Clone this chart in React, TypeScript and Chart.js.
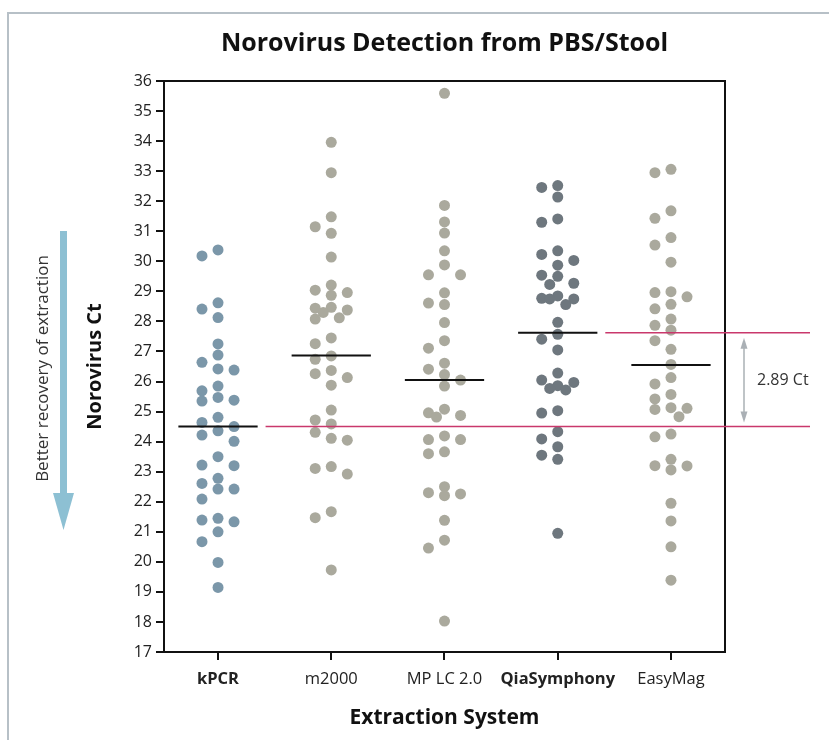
import { useEffect, useRef } from 'react';
import { Chart, registerables } from 'chart.js';

Chart.register(...registerables);

// ---------- data ----------
const categories = ['kPCR', 'm2000', 'MP LC 2.0', 'QiaSymphony', 'EasyMag'];
const boldCategories = ['kPCR', 'QiaSymphony'];

const kpcrCt = [30.38, 30.18, 28.41, 28.62, 28.13, 27.25, 26.88, 26.64, 26.42, 26.38, 25.69, 25.85, 25.38, 25.35, 25.47, 24.81, 24.5, 24.64, 24.36, 24.22, 24.01, 23.5, 23.2, 23.22, 22.78, 22.42, 22.61, 22.42, 22.09, 21.39, 21.33, 21.45, 21.0, 20.67, 19.98, 19.15];
const m2000Ct = [33.96, 32.95, 31.48, 31.15, 30.93, 30.14, 29.21, 29.04, 28.96, 28.87, 28.47, 28.44, 28.38, 28.3, 28.12, 28.08, 27.45, 27.26, 26.85, 26.74, 26.37, 26.26, 26.13, 25.88, 25.05, 24.72, 24.59, 24.31, 24.11, 24.05, 23.17, 23.11, 22.92, 21.67, 21.47, 19.73];
const mplcCt = [35.59, 31.86, 31.31, 30.94, 30.35, 29.88, 29.55, 29.55, 28.95, 28.61, 28.56, 27.96, 27.36, 27.11, 26.61, 26.41, 26.23, 26.05, 25.85, 24.96, 25.08, 24.82, 24.87, 24.07, 24.07, 24.19, 23.6, 23.66, 22.5, 22.26, 22.2, 22.3, 21.38, 20.72, 20.46, 18.03];
const qiaCt = [32.46, 32.52, 32.14, 31.41, 31.3, 30.23, 30.35, 30.03, 29.87, 29.54, 29.5, 29.27, 29.23, 28.75, 28.85, 28.77, 28.75, 28.56, 27.97, 27.57, 27.41, 27.05, 26.28, 26.05, 25.97, 25.86, 25.72, 25.77, 25.03, 24.95, 24.33, 24.09, 23.83, 23.55, 23.41, 20.95];
const easymagCt = [33.06, 32.95, 31.68, 31.43, 30.79, 30.54, 29.97, 28.99, 28.82, 28.96, 28.57, 28.42, 28.08, 27.87, 27.71, 27.36, 27.07, 26.57, 26.13, 25.92, 25.57, 25.11, 25.42, 25.13, 25.07, 24.83, 24.25, 24.16, 23.41, 23.2, 23.06, 23.19, 21.95, 21.36, 20.5, 19.39];
const seriesCt = [kpcrCt, m2000Ct, mplcCt, qiaCt, easymagCt];

const meanCt = [24.5, 26.87, 26.05, 27.62, 26.55];
const yMin = 17;
const yMax = 36;
const deltaLabel = '2.89 Ct';

// ---------- styles ----------
const FONT = "'Open Sans', 'Noto Sans', sans-serif";
const dotColors = ['#7b97a9', '#aaa99d', '#aaa99d', '#6e777e', '#aaa99d'];
const PINK = '#c9386c';

// simple beeswarm: spreads dots of one category sideways so they overlap little
function swarm(values: number[], index: number) {
  const pxPerX = 113;
  const pxPerCt = 30.05;
  const minDist = 11;
  const candidates = [0, -16, 16, -8, 8];
  const placed: { dx: number; py: number }[] = [];
  const nearest = (c: number, py: number) =>
    placed.reduce((m, p) => Math.min(m, Math.hypot(p.dx - c, p.py - py)), Infinity);
  return [...values]
    .sort((a, b) => b - a)
    .map((v) => {
      const py = v * pxPerCt;
      let dx = candidates.find((c) => nearest(c, py) >= minDist);
      if (dx === undefined) {
        dx = candidates.reduce((best, c) => (nearest(c, py) > nearest(best, py) ? c : best), candidates[0]);
      }
      placed.push({ dx, py });
      return { x: index + dx / pxPerX, y: v };
    });
}

const overlay = {
  id: 'overlay',
  beforeDatasetsDraw(chart: any) {
    const { ctx, chartArea } = chart;
    ctx.save();
    // blue arrow "better recovery"
    const cx = chartArea.left - 100.5;
    const top = chartArea.top + 150;
    const headStart = chartArea.top + 412;
    const tip = chartArea.top + 449;
    ctx.fillStyle = '#8dc0d3';
    ctx.fillRect(cx - 3.5, top, 7, headStart - top);
    ctx.beginPath();
    ctx.moveTo(cx - 10.5, headStart);
    ctx.lineTo(cx + 10.5, headStart);
    ctx.lineTo(cx, tip);
    ctx.closePath();
    ctx.fill();
    // rotated caption
    ctx.translate(chartArea.left - 121, (chartArea.top + chartArea.bottom) / 2 + 2);
    ctx.rotate(-Math.PI / 2);
    ctx.fillStyle = '#333';
    ctx.font = `17px ${FONT}`;
    ctx.textAlign = 'center';
    ctx.textBaseline = 'middle';
    ctx.fillText('Better recovery of extraction', 0, 0);
    ctx.restore();
  },
  afterDraw(chart: any) {
    const { ctx, chartArea, scales } = chart;
    const xs = scales.x;
    const ys = scales.y;
    ctx.save();
    // plot frame
    ctx.strokeStyle = '#111';
    ctx.lineWidth = 2;
    ctx.strokeRect(chartArea.left, chartArea.top, chartArea.right - chartArea.left, chartArea.bottom - chartArea.top);
    // reference lines
    const yRef = ys.getPixelForValue(meanCt[0]);
    const yQia = ys.getPixelForValue(meanCt[3]);
    const xEnd = chartArea.right + 85;
    ctx.strokeStyle = PINK;
    ctx.lineWidth = 1.5;
    ctx.beginPath();
    ctx.moveTo(xs.getPixelForValue(0.42), yRef);
    ctx.lineTo(xEnd, yRef);
    ctx.moveTo(xs.getPixelForValue(3.42), yQia);
    ctx.lineTo(xEnd, yQia);
    ctx.stroke();
    // double arrow
    const ax = chartArea.right + 19;
    const a1 = yQia + 5;
    const a2 = yRef - 4;
    ctx.strokeStyle = '#aab0b5';
    ctx.fillStyle = '#aab0b5';
    ctx.lineWidth = 1.5;
    ctx.beginPath();
    ctx.moveTo(ax, a1 + 8);
    ctx.lineTo(ax, a2 - 8);
    ctx.stroke();
    ctx.beginPath();
    ctx.moveTo(ax, a1);
    ctx.lineTo(ax - 3.5, a1 + 11);
    ctx.lineTo(ax + 3.5, a1 + 11);
    ctx.closePath();
    ctx.fill();
    ctx.beginPath();
    ctx.moveTo(ax, a2);
    ctx.lineTo(ax - 3.5, a2 - 11);
    ctx.lineTo(ax + 3.5, a2 - 11);
    ctx.closePath();
    ctx.fill();
    ctx.fillStyle = '#333';
    ctx.font = `16px ${FONT}`;
    ctx.textAlign = 'left';
    ctx.textBaseline = 'middle';
    ctx.fillText(deltaLabel, ax + 13, (a1 + a2) / 2);
    ctx.restore();
  },
};

export default function App() {
  const canvasRef = useRef<HTMLCanvasElement | null>(null);

  useEffect(() => {
    if (!canvasRef.current) return;
    Chart.defaults.font.family = FONT;
    const dotSets = seriesCt.map((vals, i) => ({
      type: 'scatter' as const,
      label: categories[i],
      data: swarm(vals, i),
      backgroundColor: dotColors[i],
      borderWidth: 0,
      pointRadius: 5.5,
      pointHoverRadius: 5.5,
      order: 2,
    }));
    const meanSets = meanCt.map((m, i) => ({
      type: 'line' as const,
      label: categories[i] + ' mean',
      data: [
        { x: i - 0.35, y: m },
        { x: i + 0.35, y: m },
      ],
      borderColor: '#111',
      borderWidth: 2,
      pointRadius: 0,
      fill: false,
      order: 1,
    }));
    const chart = new Chart(canvasRef.current, {
      type: 'scatter',
      data: { datasets: [...dotSets, ...meanSets] as any },
      options: {
        animation: false,
        responsive: false,
        devicePixelRatio: 1,
        events: [],
        layout: { padding: { left: 0, right: 104, top: 0, bottom: 0 } },
        plugins: {
          legend: { display: false },
          tooltip: { enabled: false },
          title: {
            display: true,
            text: 'Norovirus Detection from PBS/Stool',
            fullSize: false,
            color: '#111',
            font: { size: 25, weight: 'bold', family: FONT },
            padding: { top: 29, bottom: 22 },
          },
        },
        scales: {
          x: {
            type: 'linear',
            min: -0.477,
            max: 4.477,
            afterBuildTicks: (s: any) => {
              s.ticks = categories.map((_, i) => ({ value: i }));
            },
            afterFit: (s: any) => {
              s.height = 88;
            },
            ticks: {
              autoSkip: false,
              maxRotation: 0,
              padding: 9,
              color: '#222',
              callback: (v: any) => categories[Number(v)] ?? '',
              font: (c: any) => ({
                size: 16.5,
                family: FONT,
                weight: boldCategories.includes(categories[c.index]) ? 'bold' : 'normal',
              }),
            },
            grid: { drawOnChartArea: false, drawTicks: true, tickLength: 8, color: '#111', lineWidth: 2 },
            border: { display: true, color: '#111', width: 2 },
            title: {
              display: true,
              text: 'Extraction System',
              color: '#111',
              font: { size: 21, weight: 'bold', family: FONT },
              padding: { top: 0, bottom: 9.4 },
            },
          },
          y: {
            type: 'linear',
            min: yMin,
            max: yMax,
            afterFit: (s: any) => {
              s.width = 164;
            },
            ticks: { stepSize: 1, padding: 4, color: '#222', font: { size: 16, family: FONT } },
            grid: { drawOnChartArea: false, drawTicks: true, tickLength: 8, color: '#111', lineWidth: 2 },
            border: { display: true, color: '#111', width: 2 },
            title: {
              display: true,
              text: 'Norovirus Ct',
              color: '#111',
              font: { size: 20, weight: 'bold', family: FONT },
              padding: { top: 83, bottom: 0 },
            },
          },
        },
      },
      plugins: [overlay],
    });
    return () => chart.destroy();
  }, []);

  return (
    <div style={{ position: 'absolute', left: 0, top: 0, width: 829, height: 740, overflow: 'hidden', background: '#fff' }}>
      <div
        style={{
          position: 'absolute',
          left: 7,
          top: 12,
          width: 900,
          height: 800,
          borderLeft: '2px solid #b7c0c7',
          borderTop: '2px solid #b7c0c7',
        }}
      />
      <canvas ref={canvasRef} width={829} height={740} style={{ position: 'absolute', left: 0, top: 0 }} />
    </div>
  );
}
